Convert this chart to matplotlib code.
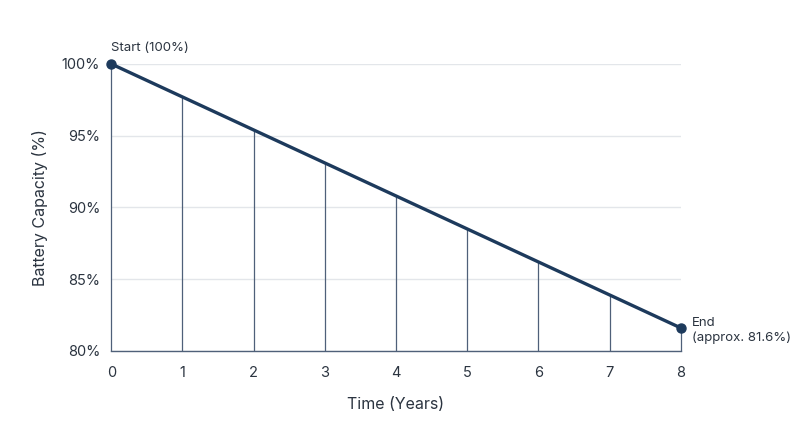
import matplotlib
matplotlib.use('Agg')
import matplotlib.pyplot as plt

years = [0, 1, 2, 3, 4, 5, 6, 7, 8]
capacity = [100, 97.7, 95.4, 93.1, 90.8, 88.5, 86.2, 83.9, 81.6]
y_ticks = [80, 85, 90, 95, 100]

plt.rcParams['font.family'] = ['Inter', 'DejaVu Sans']

navy = '#1d3a5c'
drop = '#4f6079'
text_c = '#2b3440'

fig = plt.figure(figsize=(8, 4.47), dpi=100)
ax = fig.add_axes([0.139, 0.215, 0.712, 0.642])

# vertical drop lines from axis to curve
ax.vlines(years, 80, capacity, color=drop, linewidth=0.9, zorder=2, clip_on=False)
ax.plot(years, capacity, color=navy, linewidth=2.4, zorder=3, clip_on=False)
ax.plot([years[0], years[-1]], [capacity[0], capacity[-1]], 'o',
        color=navy, markersize=6.5, zorder=4, clip_on=False)

ax.annotate('Start (100%)', (years[0], capacity[0]), xytext=(0, 7),
            textcoords='offset points', fontsize=9.5, color=text_c,
            ha='left', va='bottom')
ax.annotate('End\n(approx. 81.6%)', (years[-1], capacity[-1]), xytext=(8, -2),
            textcoords='offset points', fontsize=9.5, color=text_c,
            ha='left', va='center', linespacing=1.25)

ax.set_xlim(0, 8)
ax.set_ylim(80, 100)
ax.set_xticks(years)
ax.set_yticks(y_ticks)
ax.set_yticklabels([f'{v}%' for v in y_ticks])
ax.tick_params(length=0, labelsize=10.5, colors=text_c)
ax.tick_params(axis='x', pad=11)
ax.tick_params(axis='y', pad=8)
ax.grid(axis='y', color='#e3e6ea', linewidth=1, zorder=0)
ax.set_axisbelow(True)

for s in ['top', 'right', 'left']:
    ax.spines[s].set_visible(False)
ax.spines['bottom'].set_color(drop)
ax.spines['bottom'].set_linewidth(1)

ax.set_xlabel('Time (Years)', fontsize=11.5, color=text_c, labelpad=12)
ax.set_ylabel('Battery Capacity (%)', fontsize=11.5, color=text_c, labelpad=10)

fig.savefig('out.png', dpi=100, facecolor='white')
